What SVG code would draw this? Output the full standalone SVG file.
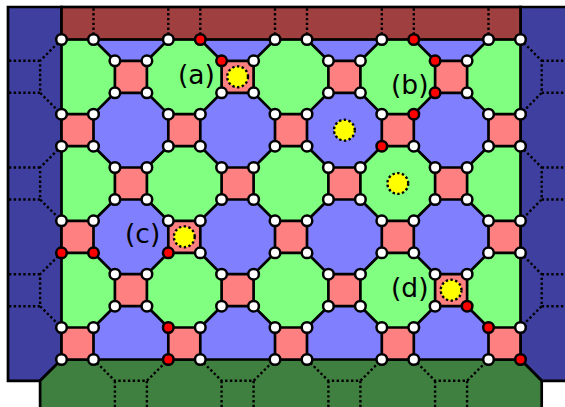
<svg xmlns="http://www.w3.org/2000/svg" width="565" height="407" viewBox="0 0 565 407">
<style>
.w{fill:#fff;stroke:#000;stroke-width:2.5}
.r{fill:#f00;stroke:#000;stroke-width:2.5}
.y{fill:#ff0;stroke:#000;stroke-width:2.4;stroke-dasharray:2.4 2.4}
.e{fill:none;stroke:#000;stroke-width:2.7;stroke-linejoin:round}
.d{fill:none;stroke:#000;stroke-width:2.4;stroke-dasharray:2.4 2.4}
.o{stroke:#000;stroke-width:2.7;stroke-linejoin:miter}
.t{font-family:"DejaVu Sans",sans-serif;font-size:26.5px;fill:#000}
.s{fill:#ff8080}
</style>
<defs>
<polygon id="oct" points="-16,-37.4 16,-37.4 37.4,-16 37.4,16 16,37.4 -16,37.4 -37.4,16 -37.4,-16" fill="#8080ff"/>
<polygon id="cap" points="-37.4,0 37.4,0 16,21.3 -16,21.3" fill="#8080ff"/>
<path id="cell" d="M0 0H32V32H0ZM0 0l-21.4-21.3M32 0l21.4-21.3M0 32l-21.4 21.3M32 32l21.4 21.3"/>
<rect id="sq" width="32" height="32"/>
</defs>
<g id="regions">
<rect x="61.5" y="39.5" width="459" height="320" fill="#80ff80"/>
<use href="#cap" x="130.9" y="39.5"/><use href="#cap" x="237.6" y="39.5"/><use href="#cap" x="344.4" y="39.5"/><use href="#cap" x="451.1" y="39.5"/>
<use href="#oct" x="130.9" y="130.2"/><use href="#oct" x="237.6" y="130.2"/><use href="#oct" x="344.4" y="130.2"/><use href="#oct" x="451.1" y="130.2"/>
<use href="#oct" x="130.9" y="236.8"/><use href="#oct" x="237.6" y="236.8"/><use href="#oct" x="344.4" y="236.8"/><use href="#oct" x="451.1" y="236.8"/>
<use href="#oct" x="130.9" y="343.5"/><use href="#oct" x="237.6" y="343.5"/><use href="#oct" x="344.4" y="343.5"/><use href="#oct" x="451.1" y="343.5"/>
<path class="o" fill="#3f3f9f" d="M61.5 7H8V380.8H40.1L61.5 359.5Z"/>
<path class="o" fill="#3f3f9f" d="M520.5 7H568V380.8H541.7L520.5 359.5Z"/>
<rect class="o" x="61.5" y="7" width="459" height="32.5" fill="#9f3f3f"/>
<path class="o" fill="#3f7f3f" d="M61.5 359.5H520.5L541.7 380.8V410H40.1V380.8Z"/>
<g class="s">
<use href="#sq" x="114.9" y="60.8"/><use href="#sq" x="221.6" y="60.8"/><use href="#sq" x="328.4" y="60.8"/><use href="#sq" x="435.1" y="60.8"/>
<use href="#sq" x="61.5" y="114.2"/><use href="#sq" x="168.3" y="114.2"/><use href="#sq" x="275" y="114.2"/><use href="#sq" x="381.8" y="114.2"/><use href="#sq" x="488.5" y="114.2"/>
<use href="#sq" x="114.9" y="167.5"/><use href="#sq" x="221.6" y="167.5"/><use href="#sq" x="328.4" y="167.5"/><use href="#sq" x="435.1" y="167.5"/>
<use href="#sq" x="61.5" y="220.8"/><use href="#sq" x="168.3" y="220.8"/><use href="#sq" x="275" y="220.8"/><use href="#sq" x="381.8" y="220.8"/><use href="#sq" x="488.5" y="220.8"/>
<use href="#sq" x="114.9" y="274.2"/><use href="#sq" x="221.6" y="274.2"/><use href="#sq" x="328.4" y="274.2"/><use href="#sq" x="435.1" y="274.2"/>
<use href="#sq" x="61.5" y="327.5"/><use href="#sq" x="168.3" y="327.5"/><use href="#sq" x="275" y="327.5"/><use href="#sq" x="381.8" y="327.5"/><use href="#sq" x="488.5" y="327.5"/>
</g>
</g>
<g id="connectors">
<g class="e">
<use href="#cell" x="114.9" y="60.8"/><use href="#cell" x="221.6" y="60.8"/><use href="#cell" x="328.4" y="60.8"/><use href="#cell" x="435.1" y="60.8"/>
<use href="#cell" x="114.9" y="167.5"/><use href="#cell" x="221.6" y="167.5"/><use href="#cell" x="328.4" y="167.5"/><use href="#cell" x="435.1" y="167.5"/>
<use href="#cell" x="114.9" y="274.2"/><use href="#cell" x="221.6" y="274.2"/><use href="#cell" x="328.4" y="274.2"/><use href="#cell" x="435.1" y="274.2"/>
<path d="M61.5 114.2H93.5V146.2H61.5ZM168.3 114.2H200.3V146.2H168.3ZM275 114.2H307V146.2H275ZM381.8 114.2H413.8V146.2H381.8ZM488.5 114.2H520.5V146.2H488.5Z"/>
<path d="M61.5 220.8H93.5V252.8H61.5ZM168.3 220.8H200.3V252.8H168.3ZM275 220.8H307V252.8H275ZM381.8 220.8H413.8V252.8H381.8ZM488.5 220.8H520.5V252.8H488.5Z"/>
<path d="M61.5 327.5H93.5V359.5H61.5ZM168.3 327.5H200.3V359.5H168.3ZM275 327.5H307V359.5H275ZM381.8 327.5H413.8V359.5H381.8ZM488.5 327.5H520.5V359.5H488.5Z"/>
</g>
<path class="d" d="M93.5 39.5V7M168.3 39.5V7M200.3 39.5V7M275 39.5V7M307 39.5V7M381.8 39.5V7M413.8 39.5V7M488.5 39.5V7"/>
<path class="d" d="M61.5 39.5L40.1 60.8V92.8L61.5 114.2M40.1 60.8H8M40.1 92.8H8M61.5 146.2L40.1 167.5V199.5L61.5 220.8M40.1 167.5H8M40.1 199.5H8M61.5 252.8L40.1 274.2V306.2L61.5 327.5M40.1 274.2H8M40.1 306.2H8"/>
<path class="d" d="M520.5 39.5L541.7 60.8V92.8L520.5 114.2M541.7 60.8H565M541.7 92.8H565M520.5 146.2L541.7 167.5V199.5L520.5 220.8M541.7 167.5H565M541.7 199.5H565M520.5 252.8L541.7 274.2V306.2L520.5 327.5M541.7 274.2H565M541.7 306.2H565"/>
<path class="d" d="M93.5 359.5L114.9 380.8H146.9L168.3 359.5M114.9 380.8V407M146.9 380.8V407M200.3 359.5L221.6 380.8H253.6L275 359.5M221.6 380.8V407M253.6 380.8V407M307 359.5L328.4 380.8H360.4L381.8 359.5M328.4 380.8V407M360.4 380.8V407M413.8 359.5L435.1 380.8H467.1L488.5 359.5M435.1 380.8V407M467.1 380.8V407"/>
</g>
<g id="markers">
<g id="m1"><circle class="y" cx="237.6" cy="76.8" r="10.4"/></g>
<g id="m2"><circle class="y" cx="344.4" cy="130.2" r="10.4"/></g>
<g id="m3"><circle class="y" cx="397.8" cy="183.5" r="10.4"/></g>
<g id="m4"><circle class="y" cx="184.3" cy="236.8" r="10.4"/></g>
<g id="m5"><circle class="y" cx="451.1" cy="290.2" r="10.4"/></g>
</g>
<g id="nodes">
<g id="r0a"><circle class="w" cx="61.5" cy="39.5" r="5.3"/></g><g id="r0b"><circle class="w" cx="93.5" cy="39.5" r="5.3"/></g>
<g id="r0c"><circle class="w" cx="168.3" cy="39.5" r="5.3"/></g><g id="r0d"><circle class="r" cx="200.3" cy="39.5" r="5.3"/></g>
<g id="r0e"><circle class="w" cx="275" cy="39.5" r="5.3"/></g><g id="r0f"><circle class="w" cx="307" cy="39.5" r="5.3"/></g>
<g id="r0g"><circle class="w" cx="381.8" cy="39.5" r="5.3"/></g><g id="r0h"><circle class="r" cx="413.8" cy="39.5" r="5.3"/></g>
<g id="r0i"><circle class="w" cx="488.5" cy="39.5" r="5.3"/></g><g id="r0j"><circle class="w" cx="520.5" cy="39.5" r="5.3"/></g>
<g id="r1a"><circle class="w" cx="114.9" cy="60.8" r="5.3"/></g><g id="r1b"><circle class="w" cx="146.9" cy="60.8" r="5.3"/></g>
<g id="r1c"><circle class="r" cx="221.6" cy="60.8" r="5.3"/></g><g id="r1d"><circle class="w" cx="253.6" cy="60.8" r="5.3"/></g>
<g id="r1e"><circle class="w" cx="328.4" cy="60.8" r="5.3"/></g><g id="r1f"><circle class="w" cx="360.4" cy="60.8" r="5.3"/></g>
<g id="r1g"><circle class="r" cx="435.1" cy="60.8" r="5.3"/></g><g id="r1h"><circle class="w" cx="467.1" cy="60.8" r="5.3"/></g>
<g id="r2a"><circle class="w" cx="114.9" cy="92.8" r="5.3"/></g><g id="r2b"><circle class="w" cx="146.9" cy="92.8" r="5.3"/></g>
<g id="r2c"><circle class="w" cx="221.6" cy="92.8" r="5.3"/></g><g id="r2d"><circle class="w" cx="253.6" cy="92.8" r="5.3"/></g>
<g id="r2e"><circle class="w" cx="328.4" cy="92.8" r="5.3"/></g><g id="r2f"><circle class="w" cx="360.4" cy="92.8" r="5.3"/></g>
<g id="r2g"><circle class="r" cx="435.1" cy="92.8" r="5.3"/></g><g id="r2h"><circle class="w" cx="467.1" cy="92.8" r="5.3"/></g>
<g id="r3a"><circle class="w" cx="61.5" cy="114.2" r="5.3"/></g><g id="r3b"><circle class="w" cx="93.5" cy="114.2" r="5.3"/></g>
<g id="r3c"><circle class="w" cx="168.3" cy="114.2" r="5.3"/></g><g id="r3d"><circle class="w" cx="200.3" cy="114.2" r="5.3"/></g>
<g id="r3e"><circle class="w" cx="275" cy="114.2" r="5.3"/></g><g id="r3f"><circle class="w" cx="307" cy="114.2" r="5.3"/></g>
<g id="r3g"><circle class="w" cx="381.8" cy="114.2" r="5.3"/></g><g id="r3h"><circle class="r" cx="413.8" cy="114.2" r="5.3"/></g>
<g id="r3i"><circle class="w" cx="488.5" cy="114.2" r="5.3"/></g><g id="r3j"><circle class="w" cx="520.5" cy="114.2" r="5.3"/></g>
<g id="r4a"><circle class="w" cx="61.5" cy="146.2" r="5.3"/></g><g id="r4b"><circle class="w" cx="93.5" cy="146.2" r="5.3"/></g>
<g id="r4c"><circle class="w" cx="168.3" cy="146.2" r="5.3"/></g><g id="r4d"><circle class="w" cx="200.3" cy="146.2" r="5.3"/></g>
<g id="r4e"><circle class="w" cx="275" cy="146.2" r="5.3"/></g><g id="r4f"><circle class="w" cx="307" cy="146.2" r="5.3"/></g>
<g id="r4g"><circle class="r" cx="381.8" cy="146.2" r="5.3"/></g><g id="r4h"><circle class="w" cx="413.8" cy="146.2" r="5.3"/></g>
<g id="r4i"><circle class="w" cx="488.5" cy="146.2" r="5.3"/></g><g id="r4j"><circle class="w" cx="520.5" cy="146.2" r="5.3"/></g>
<g id="r5a"><circle class="w" cx="114.9" cy="167.5" r="5.3"/></g><g id="r5b"><circle class="w" cx="146.9" cy="167.5" r="5.3"/></g>
<g id="r5c"><circle class="w" cx="221.6" cy="167.5" r="5.3"/></g><g id="r5d"><circle class="w" cx="253.6" cy="167.5" r="5.3"/></g>
<g id="r5e"><circle class="w" cx="328.4" cy="167.5" r="5.3"/></g><g id="r5f"><circle class="w" cx="360.4" cy="167.5" r="5.3"/></g>
<g id="r5g"><circle class="w" cx="435.1" cy="167.5" r="5.3"/></g><g id="r5h"><circle class="w" cx="467.1" cy="167.5" r="5.3"/></g>
<g id="r6a"><circle class="w" cx="114.9" cy="199.5" r="5.3"/></g><g id="r6b"><circle class="w" cx="146.9" cy="199.5" r="5.3"/></g>
<g id="r6c"><circle class="w" cx="221.6" cy="199.5" r="5.3"/></g><g id="r6d"><circle class="w" cx="253.6" cy="199.5" r="5.3"/></g>
<g id="r6e"><circle class="w" cx="328.4" cy="199.5" r="5.3"/></g><g id="r6f"><circle class="w" cx="360.4" cy="199.5" r="5.3"/></g>
<g id="r6g"><circle class="w" cx="435.1" cy="199.5" r="5.3"/></g><g id="r6h"><circle class="w" cx="467.1" cy="199.5" r="5.3"/></g>
<g id="r7a"><circle class="w" cx="61.5" cy="220.8" r="5.3"/></g><g id="r7b"><circle class="w" cx="93.5" cy="220.8" r="5.3"/></g>
<g id="r7c"><circle class="w" cx="168.3" cy="220.8" r="5.3"/></g><g id="r7d"><circle class="w" cx="200.3" cy="220.8" r="5.3"/></g>
<g id="r7e"><circle class="w" cx="275" cy="220.8" r="5.3"/></g><g id="r7f"><circle class="w" cx="307" cy="220.8" r="5.3"/></g>
<g id="r7g"><circle class="w" cx="381.8" cy="220.8" r="5.3"/></g><g id="r7h"><circle class="w" cx="413.8" cy="220.8" r="5.3"/></g>
<g id="r7i"><circle class="w" cx="488.5" cy="220.8" r="5.3"/></g><g id="r7j"><circle class="w" cx="520.5" cy="220.8" r="5.3"/></g>
<g id="r8a"><circle class="r" cx="61.5" cy="252.8" r="5.3"/></g><g id="r8b"><circle class="r" cx="93.5" cy="252.8" r="5.3"/></g>
<g id="r8c"><circle class="r" cx="168.3" cy="252.8" r="5.3"/></g><g id="r8d"><circle class="w" cx="200.3" cy="252.8" r="5.3"/></g>
<g id="r8e"><circle class="w" cx="275" cy="252.8" r="5.3"/></g><g id="r8f"><circle class="w" cx="307" cy="252.8" r="5.3"/></g>
<g id="r8g"><circle class="w" cx="381.8" cy="252.8" r="5.3"/></g><g id="r8h"><circle class="w" cx="413.8" cy="252.8" r="5.3"/></g>
<g id="r8i"><circle class="w" cx="488.5" cy="252.8" r="5.3"/></g><g id="r8j"><circle class="w" cx="520.5" cy="252.8" r="5.3"/></g>
<g id="r9a"><circle class="w" cx="114.9" cy="274.2" r="5.3"/></g><g id="r9b"><circle class="w" cx="146.9" cy="274.2" r="5.3"/></g>
<g id="r9c"><circle class="w" cx="221.6" cy="274.2" r="5.3"/></g><g id="r9d"><circle class="w" cx="253.6" cy="274.2" r="5.3"/></g>
<g id="r9e"><circle class="w" cx="328.4" cy="274.2" r="5.3"/></g><g id="r9f"><circle class="w" cx="360.4" cy="274.2" r="5.3"/></g>
<g id="r9g"><circle class="w" cx="435.1" cy="274.2" r="5.3"/></g><g id="r9h"><circle class="w" cx="467.1" cy="274.2" r="5.3"/></g>
<g id="r10a"><circle class="w" cx="114.9" cy="306.2" r="5.3"/></g><g id="r10b"><circle class="w" cx="146.9" cy="306.2" r="5.3"/></g>
<g id="r10c"><circle class="w" cx="221.6" cy="306.2" r="5.3"/></g><g id="r10d"><circle class="w" cx="253.6" cy="306.2" r="5.3"/></g>
<g id="r10e"><circle class="w" cx="328.4" cy="306.2" r="5.3"/></g><g id="r10f"><circle class="w" cx="360.4" cy="306.2" r="5.3"/></g>
<g id="r10g"><circle class="w" cx="435.1" cy="306.2" r="5.3"/></g><g id="r10h"><circle class="r" cx="467.1" cy="306.2" r="5.3"/></g>
<g id="r11a"><circle class="w" cx="61.5" cy="327.5" r="5.3"/></g><g id="r11b"><circle class="w" cx="93.5" cy="327.5" r="5.3"/></g>
<g id="r11c"><circle class="r" cx="168.3" cy="327.5" r="5.3"/></g><g id="r11d"><circle class="w" cx="200.3" cy="327.5" r="5.3"/></g>
<g id="r11e"><circle class="w" cx="275" cy="327.5" r="5.3"/></g><g id="r11f"><circle class="w" cx="307" cy="327.5" r="5.3"/></g>
<g id="r11g"><circle class="w" cx="381.8" cy="327.5" r="5.3"/></g><g id="r11h"><circle class="w" cx="413.8" cy="327.5" r="5.3"/></g>
<g id="r11i"><circle class="r" cx="488.5" cy="327.5" r="5.3"/></g><g id="r11j"><circle class="w" cx="520.5" cy="327.5" r="5.3"/></g>
<g id="r12a"><circle class="w" cx="61.5" cy="359.5" r="5.3"/></g><g id="r12b"><circle class="w" cx="93.5" cy="359.5" r="5.3"/></g>
<g id="r12c"><circle class="r" cx="168.3" cy="359.5" r="5.3"/></g><g id="r12d"><circle class="w" cx="200.3" cy="359.5" r="5.3"/></g>
<g id="r12e"><circle class="w" cx="275" cy="359.5" r="5.3"/></g><g id="r12f"><circle class="w" cx="307" cy="359.5" r="5.3"/></g>
<g id="r12g"><circle class="w" cx="381.8" cy="359.5" r="5.3"/></g><g id="r12h"><circle class="w" cx="413.8" cy="359.5" r="5.3"/></g>
<g id="r12i"><circle class="w" cx="488.5" cy="359.5" r="5.3"/></g><g id="r12j"><circle class="r" cx="520.5" cy="359.5" r="5.3"/></g>
</g>
<g id="labels">
<text class="t" x="178" y="84">(a)</text>
<text class="t" x="391" y="94">(b)</text>
<text class="t" x="125" y="243">(c)</text>
<text class="t" x="391" y="297">(d)</text>
</g>
</svg>
